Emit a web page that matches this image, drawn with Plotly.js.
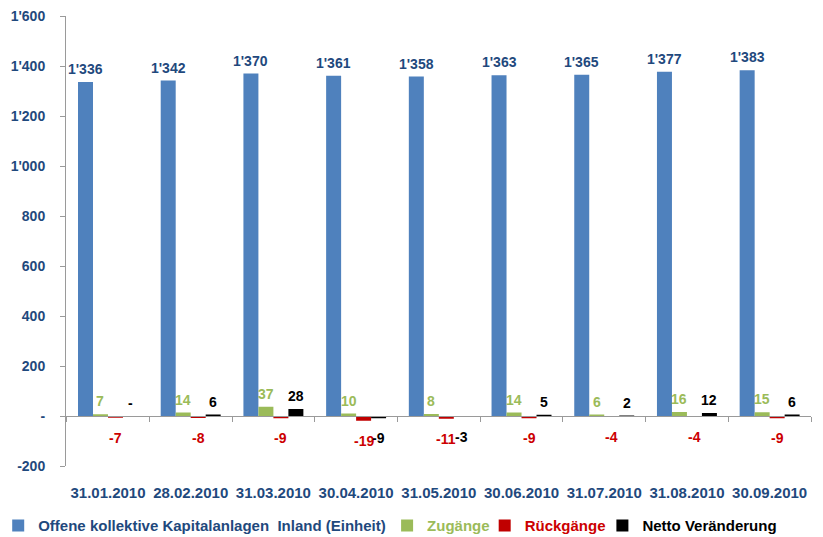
<!DOCTYPE html>
<html>
<head>
<meta charset="utf-8">
<script src="https://cdn.plot.ly/plotly-3.0.1.min.js"></script>
<style>html,body{margin:0;padding:0;background:#fff;}#chart{width:823px;height:537px;}</style>
</head>
<body>
<div id="chart"></div>
<script>
const dates = ["31.01.2010","28.02.2010","31.03.2010","30.04.2010","31.05.2010","30.06.2010","31.07.2010","31.08.2010","30.09.2010"];
const bestand = [1336, 1342, 1370, 1361, 1358, 1363, 1365, 1377, 1383];
const zugaenge = [7, 14, 37, 10, 8, 14, 6, 16, 15];
const rueckgaenge = [-7, -8, -9, -19, -11, -9, -4, -4, -9];
const netto = [0, 6, 28, -9, -3, 5, 2, 12, 6];
const yTickVals = [-200, 0, 200, 400, 600, 800, 1000, 1200, 1400, 1600];
const yTickText = ["-200", "-", "200", "400", "600", "800", "1'000", "1'200", "1'400", "1'600"];

const seriesNames = ["Offene kollektive Kapitalanlagen &nbsp;Inland (Einheit)", "Zugänge", "Rückgänge", "Netto Veränderung"];
const seriesData = [bestand, zugaenge, rueckgaenge, netto];
const barColors = ["#4F81BD", "#9BBB59", "#C00000", "#000000"];
const textColors = ["#1F497D", "#9BBB59", "#CC0000", "#000000"];
const legendIds = ["legend", "legend2", "legend3", "legend4"];

function fmt(v) {
  if (v === 0) return "-";
  const s = String(Math.abs(v)).replace(/\B(?=(\d{3})+(?!\d))/g, "'");
  return (v < 0 ? "-" : "") + s;
}

const FONT = "Liberation Sans, Arial, sans-serif";
const traces = seriesData.map((d, i) => ({
  type: "bar",
  x: dates,
  y: d,
  name: '<span style="color:' + textColors[i] + '">' + seriesNames[i] + '</span>',
  marker: {color: barColors[i]},
  legend: legendIds[i],
  hoverinfo: "x+y"
}));
traces.push({
  type: "scatter", mode: "markers", x: dates, y: dates.map(() => null),
  xaxis: "x2", showlegend: false, hoverinfo: "skip"
});

const annotations = [];
const offsets = [-1.5, -0.5, 0.5, 1.5];
const barW = (1 - 0.275) / 4;
seriesData.forEach((d, i) => {
  d.forEach((v, j) => {
    const neg = v < 0;
    annotations.push({
      x: j + offsets[i] * barW, y: v, xref: "x", yref: "y",
      text: "<b>" + fmt(v) + "</b>", showarrow: false,
      yanchor: neg ? "top" : "bottom",
      yshift: neg ? -10 : 3,
      font: {family: FONT, size: 14, color: textColors[i]}
    });
  });
});

function legendAt(x) {
  return {
    orientation: "h", x: x, xanchor: "left", y: -0.133, yanchor: "middle",
    font: {family: FONT, size: 15, weight: "bold"},
    bgcolor: "rgba(0,0,0,0)", itemwidth: 30
  };
}

const layout = {
  width: 823, height: 537,
  margin: {l: 66, r: 12, t: 16, b: 71, autoexpand: false},
  paper_bgcolor: "#fff", plot_bgcolor: "#fff",
  barmode: "group", bargap: 0.275, bargroupgap: 0,
  font: {family: FONT, size: 14, color: "#1F497D"},
  xaxis: {
    type: "category", categoryorder: "array", categoryarray: dates,
    showline: false, ticks: "", showgrid: false, zeroline: false,
    tickfont: {family: FONT, size: 15, color: "#1F497D", weight: "bold"},
    ticklabelstandoff: 16
  },
  xaxis2: {
    type: "category", overlaying: "x", matches: "x", anchor: "free", position: 200/1800,
    showline: true, linecolor: "#9A9A9A", linewidth: 1,
    ticks: "outside", tickson: "boundaries", ticklen: 5, tickcolor: "#9A9A9A",
    showticklabels: false, showgrid: false, zeroline: false
  },
  yaxis: {
    range: [-200, 1600], tickvals: yTickVals, ticktext: yTickText,
    showline: true, linecolor: "#9A9A9A", linewidth: 1,
    ticks: "outside", ticklen: 5, tickcolor: "#9A9A9A",
    showgrid: false, zeroline: false,
    tickfont: {family: FONT, size: 14, color: "#1F497D", weight: "bold"},
    ticklabelstandoff: 12
  },
  legend: legendAt(-0.091),
  legend2: legendAt(0.431),
  legend3: legendAt(0.562),
  legend4: legendAt(0.72),
  showlegend: true,
  annotations: annotations
};

Plotly.newPlot("chart", traces, layout, {displayModeBar: false, staticPlot: true});
</script>
</body>
</html>
